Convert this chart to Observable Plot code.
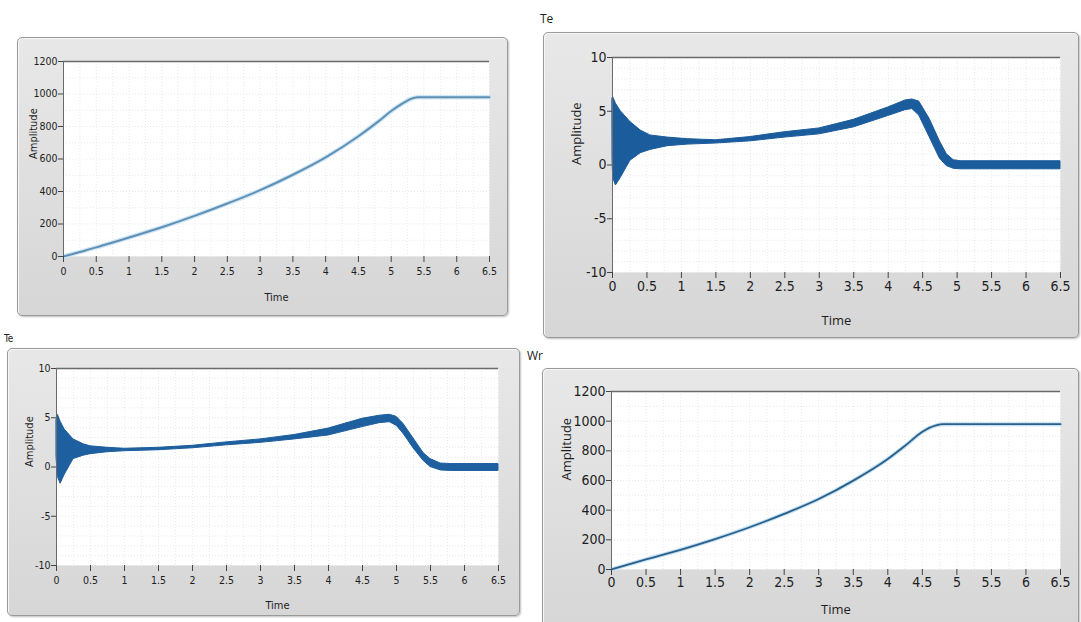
<!DOCTYPE html>
<html>
<head>
<meta charset="utf-8">
<script src="https://cdn.jsdelivr.net/npm/d3@7"></script>
<script src="https://cdn.jsdelivr.net/npm/@observablehq/plot@0.6"></script>
<style>
  html, body { margin: 0; padding: 0; background: #ffffff; }
  body { width: 1081px; height: 622px; overflow: hidden; position: relative; font-family: "Open Sans", "DejaVu Sans", sans-serif; }
  .frame { position: absolute; box-sizing: border-box; border: 1px solid #9a9a9a; border-radius: 5px;
           background: linear-gradient(#e8e8e8, #d6d6d6); box-shadow: inset 1px 1px 0 #f6f6f6, 1px 1px 2px rgba(0,0,0,0.25); }
  .name { position: absolute; font-size: 12px; color: #222; font-family: "Open Sans", sans-serif; }
  .name.small { font-size: 10px; font-family: "Liberation Sans Narrow", "DejaVu Sans Condensed", sans-serif; }
</style>
</head>
<body>
<script>
// ---------- data ----------
const xTicks = [0, 0.5, 1, 1.5, 2, 2.5, 3, 3.5, 4, 4.5, 5, 5.5, 6, 6.5];
const wrTicks = [0, 200, 400, 600, 800, 1000, 1200];
const teTicks = [-10, -5, 0, 5, 10];

// top-left: speed (untitled)
const wrATime  = [0, 0.25, 0.5, 0.75, 1, 1.5, 2, 2.5, 3, 3.5, 4, 4.5, 4.8, 5, 5.2, 5.3, 5.4, 6.5];
const wrAValue = [0, 28, 56, 86, 117, 180, 250, 326, 408, 503, 610, 740, 830, 895, 948, 970, 980, 980];

// top-right: Te
const teBTime  = [0, 0.01, 0.05, 0.12, 0.26, 0.41, 0.55, 0.8, 1.1, 1.5, 2, 2.5, 3, 3.5, 4, 4.25, 4.35, 4.45, 4.6, 4.75, 4.85, 4.95, 5.05, 6.5];
const teBUpper = [6.2, 6.3, 5.7, 5.0, 4.0, 3.2, 2.75, 2.55, 2.4, 2.3, 2.6, 3.05, 3.4, 4.2, 5.35, 6.0, 6.1, 5.9, 4.3, 2.2, 1.0, 0.45, 0.35, 0.35];
const teBLower = [0.5, -1.2, -1.9, -1.2, 0.4, 1.1, 1.4, 1.75, 1.9, 2.0, 2.2, 2.55, 2.85, 3.5, 4.55, 5.1, 5.2, 4.6, 2.6, 0.6, -0.1, -0.35, -0.4, -0.4];

// bottom-left: Te
const teCTime  = [0, 0.02, 0.06, 0.12, 0.25, 0.4, 0.5, 0.75, 1, 1.5, 2, 2.5, 3, 3.5, 4, 4.5, 4.75, 4.9, 5.0, 5.1, 5.25, 5.4, 5.5, 5.65, 5.8, 6.5];
const teCUpper = [4.8, 5.3, 4.6, 3.8, 2.8, 2.3, 2.1, 1.95, 1.85, 1.95, 2.15, 2.5, 2.8, 3.25, 3.9, 4.9, 5.2, 5.3, 5.1, 4.4, 2.9, 1.4, 0.8, 0.35, 0.3, 0.3];
const teCLower = [1.0, -1.0, -1.7, -0.8, 0.8, 1.15, 1.3, 1.5, 1.6, 1.7, 1.9, 2.2, 2.45, 2.8, 3.2, 4.05, 4.45, 4.55, 4.2, 3.4, 1.9, 0.6, 0.0, -0.35, -0.4, -0.4];

// bottom-right: Wr
const wrDTime  = [0, 0.25, 0.5, 0.75, 1, 1.5, 2, 2.5, 3, 3.5, 4, 4.25, 4.5, 4.6, 4.7, 4.8, 6.5];
const wrDValue = [0, 35, 68, 100, 133, 205, 285, 375, 475, 599, 745, 834, 928, 955, 972, 980, 980];

// ---------- helpers ----------
const lineRows = (t, v) => t.map((d, i) => ({t: d, v: v[i]}));
const bandRows = (t, hi, lo) => t.map((d, i) => ({t: d, hi: hi[i], lo: lo[i]}));
const fmt = d => String(d);

function addFrame(left, top, width, height) {
  const f = document.createElement("div");
  f.className = "frame";
  Object.assign(f.style, {left: left + "px", top: top + "px", width: width + "px", height: height + "px"});
  document.body.appendChild(f);
}
function addName(text, left, top, small) {
  const n = document.createElement("div");
  n.className = "name" + (small ? " small" : "");
  n.textContent = text;
  Object.assign(n.style, {left: left + "px", top: top + "px"});
  document.body.appendChild(n);
}

function panel(cfg) {
  const {left, top, width, height, mL, mR, mT, mB, yDomain, yTicks, dataMarks,
         tickFont, tickSize, labelFont, labelSize, xTickPad, yTickPad, timeDy, ampDx, yGridStep} = cfg;
  const yGrid = d3.range(yDomain[0], yDomain[1] + 1e-9, yGridStep);
  const chart = Plot.plot({
    width, height,
    marginLeft: mL, marginRight: mR, marginTop: mT, marginBottom: mB,
    style: {background: "transparent", color: "#1e1e1e", fontFamily: tickFont, fontSize: tickSize + "px", overflow: "visible"},
    x: {domain: [0, 6.5]},
    y: {domain: yDomain},
    marks: [
      Plot.frame({fill: "white", stroke: "none"}),
      Plot.gridX(d3.range(0, 6.5 + 1e-9, 0.25), {stroke: "#cfcfcf", strokeOpacity: 0.45, strokeDasharray: "1,2"}),
      Plot.gridY(yGrid, {stroke: "#cfcfcf", strokeOpacity: 0.45, strokeDasharray: "1,2"}),
      ...dataMarks,
      Plot.ruleY([yDomain[1]], {stroke: "#6a6a6a", strokeWidth: 1.5}),
      Plot.ruleX([0], {stroke: "#6a6a6a", strokeWidth: 1}),
      Plot.axisX(xTicks, {tickSize: 6, tickPadding: xTickPad, tickFormat: fmt, stroke: "#444", fontFamily: tickFont, fontSize: tickSize, label: null}),
      Plot.axisY(yTicks, {tickSize: 5, tickPadding: yTickPad, tickFormat: fmt, stroke: "#444", fontFamily: tickFont, fontSize: tickSize, label: null}),
      Plot.text(["Amplitude"], {frameAnchor: "left", dx: -ampDx, rotate: -90, lineAnchor: "middle", fontFamily: labelFont, fontSize: labelSize, fill: "#1e1e1e"}),
      Plot.text(["Time"], {frameAnchor: "bottom", dy: timeDy, lineAnchor: "middle", fontFamily: labelFont, fontSize: labelSize, fill: "#1e1e1e"})
    ]
  });
  Object.assign(chart.style, {position: "absolute", left: left + "px", top: top + "px"});
  document.body.appendChild(chart);
}

const narrow = "'Liberation Sans Narrow', 'DejaVu Sans Condensed', sans-serif";
const sans = "'Open Sans', 'DejaVu Sans', sans-serif";

// ---------- top-left ----------
addFrame(17, 37, 491, 279);
panel({
  left: 17, top: 37, width: 491, height: 279, mL: 46, mR: 19, mT: 24, mB: 60,
  yDomain: [0, 1200], yTicks: wrTicks, yGridStep: 100,
  tickFont: narrow, tickSize: 10.5, labelFont: narrow, labelSize: 11,
  xTickPad: 5, yTickPad: 1, timeDy: 41, ampDx: 30,
  dataMarks: [
    Plot.line(lineRows(wrATime, wrAValue), {x: "t", y: "v", stroke: "#cfe6f6", strokeWidth: 4.5, curve: "monotone-x"}),
    Plot.line(lineRows(wrATime, wrAValue), {x: "t", y: "v", stroke: "#5f90b4", strokeWidth: 2, curve: "monotone-x"})
  ]
});

// ---------- top-right ----------
addName("Te", 540, 10, false);
addFrame(543, 32, 536, 306);
panel({
  left: 543, top: 32, width: 536, height: 306, mL: 69, mR: 19, mT: 25, mB: 66,
  yDomain: [-10, 10], yTicks: teTicks, yGridStep: 1,
  tickFont: narrow, tickSize: 14, labelFont: sans, labelSize: 13,
  xTickPad: 3, yTickPad: 1, timeDy: 48, ampDx: 36,
  dataMarks: [
    Plot.areaY(bandRows(teBTime, teBUpper, teBLower), {x: "t", y1: "lo", y2: "hi", fill: "#1b5c9c", stroke: "#1b5c9c", strokeWidth: 1})
  ]
});

// ---------- bottom-left ----------
addName("Te", 4, 333, true);
addFrame(7, 348, 513, 268);
panel({
  left: 7, top: 348, width: 513, height: 268, mL: 49, mR: 22, mT: 20, mB: 51,
  yDomain: [-10, 10], yTicks: teTicks, yGridStep: 1,
  tickFont: narrow, tickSize: 10.5, labelFont: narrow, labelSize: 11,
  xTickPad: 5, yTickPad: 1, timeDy: 40, ampDx: 27,
  dataMarks: [
    Plot.areaY(bandRows(teCTime, teCUpper, teCLower), {x: "t", y1: "lo", y2: "hi", fill: "#1d5f9f", stroke: "#1d5f9f", strokeWidth: 1})
  ]
});

// ---------- bottom-right ----------
addName("Wr", 527, 347, false);
addFrame(542, 368, 537, 262);
panel({
  left: 542, top: 368, width: 537, height: 254, mL: 69, mR: 19, mT: 23, mB: 53,
  yDomain: [0, 1200], yTicks: wrTicks, yGridStep: 100,
  tickFont: narrow, tickSize: 14, labelFont: sans, labelSize: 13,
  xTickPad: 2, yTickPad: 1, timeDy: 40, ampDx: 45,
  dataMarks: [
    Plot.line(lineRows(wrDTime, wrDValue), {x: "t", y: "v", stroke: "#bfe0f5", strokeWidth: 4, curve: "monotone-x"}),
    Plot.line(lineRows(wrDTime, wrDValue), {x: "t", y: "v", stroke: "#2c5f88", strokeWidth: 1.8, curve: "monotone-x"})
  ]
});
</script>
</body>
</html>
